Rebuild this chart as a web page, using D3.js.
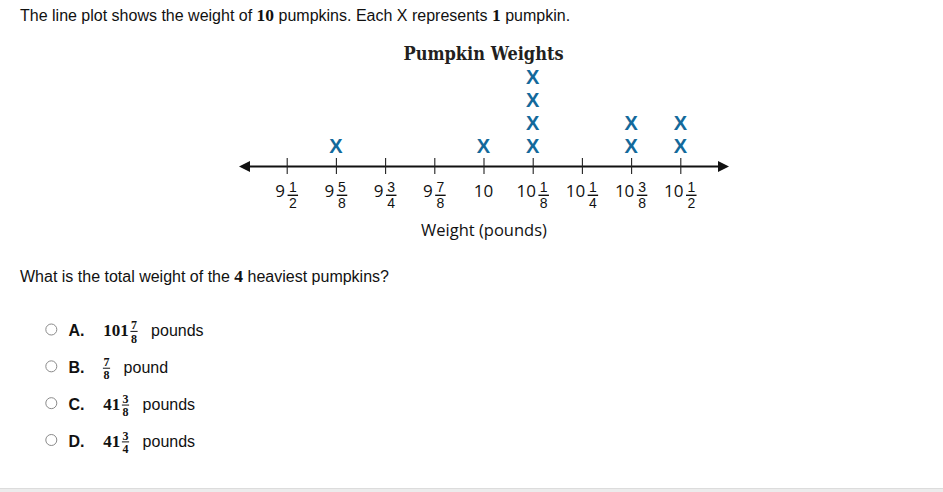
<!DOCTYPE html>
<html><head><meta charset="utf-8">
<script src="https://cdn.jsdelivr.net/npm/d3@7"></script>
<style>
html,body{margin:0;padding:0;background:#fff;}
svg{display:block;}
</style></head>
<body>
<svg id="c" width="943" height="492"></svg>
<script>
// ---- data ----
const tickValues = [9.5, 9.625, 9.75, 9.875, 10, 10.125, 10.25, 10.375, 10.5];
const tickWhole  = ["9","9","9","9","10","10","10","10","10"];
const tickNum    = ["1","5","3","7","","1","1","3","1"];
const tickDen    = ["2","8","4","8","","8","4","8","2"];
const weights    = [9.625, 10, 10.125, 10.125, 10.125, 10.125, 10.375, 10.375, 10.5, 10.5];
const chartTitle = "Pumpkin Weights";
const axisTitle  = "Weight (pounds)";
const optLetters = ["A.", "B.", "C.", "D."];
const optWhole   = ["101", "", "41", "41"];
const optNum     = ["7", "7", "3", "3"];
const optDen     = ["8", "8", "8", "4"];
const optUnit    = ["pounds", "pound", "pounds", "pounds"];

const svg = d3.select("#c");
const sansUI = "'Liberation Sans', Arial, sans-serif";
const mathF = "'Liberation Serif', 'DejaVu Serif', serif";
const tickF = "'Open Sans', 'Noto Sans', sans-serif";
const fracF = "'Liberation Sans', Arial, sans-serif";
const blue = "#13699b";
const ink = "#111";

// header text
const h = svg.append("text").attr("x", 20).attr("y", 21).attr("font-family", sansUI).attr("font-size", 16).attr("fill", ink);
h.append("tspan").text("The line plot shows the weight of ");
h.append("tspan").attr("font-family", mathF).attr("font-weight", "bold").attr("font-size", 17.5).text("10");
h.append("tspan").text(" pumpkins. Each X represents ");
h.append("tspan").attr("font-family", mathF).attr("font-weight", "bold").attr("font-size", 17.5).text("1");
h.append("tspan").text(" pumpkin.");

// scales
const x = d3.scaleLinear().domain([9.5, 10.5]).range([286.7, 680.3]);
const y = d3.scaleLinear().domain([1, 4]).range([145.5, 76.8]);
const axisY = 166.5;

// title
svg.append("text").attr("x", 483.5).attr("y", 60).attr("text-anchor", "middle")
  .attr("font-family", "'DejaVu Serif Condensed', 'DejaVu Serif', serif").attr("font-weight", "bold")
  .attr("font-size", 18).attr("fill", "#231f20").text(chartTitle);

// axis line with arrows
svg.append("line").attr("x1", 245).attr("x2", 722).attr("y1", axisY).attr("y2", axisY)
  .attr("stroke", ink).attr("stroke-width", 2.2);
svg.append("path").attr("d", `M239,${axisY} L250,${axisY-5.5} L250,${axisY+5.5} Z`).attr("fill", ink);
svg.append("path").attr("d", `M729,${axisY} L718,${axisY-5.5} L718,${axisY+5.5} Z`).attr("fill", ink);

// ticks via d3 axis
const ax = d3.axisBottom(x).tickValues(tickValues).tickSize(16).tickFormat("");
const gAx = svg.append("g").attr("transform", `translate(0,${axisY-8.5})`).call(ax);
gAx.select(".domain").remove();
gAx.selectAll(".tick line").attr("stroke", "#222").attr("stroke-width", 1.1);

// tick labels (mixed numbers)
const lab = svg.append("g").selectAll("g").data(tickValues).join("g")
  .attr("transform", (d) => `translate(${x(d)},0)`);
lab.each(function(d, i) {
  const g = d3.select(this);
  const hasFrac = tickNum[i] !== "";
  const wt = g.append("text").attr("y", 197).attr("font-family", tickF).attr("font-size", 17)
    .attr("fill", ink).text(tickWhole[i]);
  const W = wt.node().getComputedTextLength();
  const barW = 10.5, gap = 2.5;
  const total = W + (hasFrac ? gap + barW : 0);
  const left = -total / 2;
  wt.attr("x", left);
  if (hasFrac) {
    const cx = left + W + gap + barW / 2;
    g.append("text").attr("x", cx).attr("y", 192.3).attr("text-anchor", "middle")
      .attr("font-family", fracF).attr("font-size", 14).attr("fill", ink).text(tickNum[i]);
    g.append("line").attr("x1", cx - barW / 2).attr("x2", cx + barW / 2).attr("y1", 195.3).attr("y2", 195.3)
      .attr("stroke", ink).attr("stroke-width", 1.4);
    g.append("text").attr("x", cx).attr("y", 208).attr("text-anchor", "middle")
      .attr("font-family", fracF).attr("font-size", 14).attr("fill", ink).text(tickDen[i]);
  }
});

// axis title
svg.append("text").attr("x", 484).attr("y", 236).attr("text-anchor", "middle")
  .attr("font-family", tickF).attr("font-size", 16.5).attr("fill", ink).text(axisTitle);

// X marks stacked
const counts = {};
const pts = weights.map((w) => { counts[w] = (counts[w] || 0) + 1; return {w, k: counts[w]}; });
svg.append("g").selectAll("text").data(pts).join("text")
  .attr("x", (d) => x(d.w)).attr("y", (d) => y(d.k) + 7.2)
  .attr("text-anchor", "middle").attr("font-family", "'Liberation Sans', Arial, sans-serif")
  .attr("font-weight", "bold").attr("font-size", 20).attr("fill", blue).text("X");

// question
const q = svg.append("text").attr("x", 20).attr("y", 282).attr("font-family", sansUI).attr("font-size", 16).attr("fill", ink);
q.append("tspan").text("What is the total weight of the ");
q.append("tspan").attr("font-family", mathF).attr("font-weight", "bold").attr("font-size", 17.5).text("4");
q.append("tspan").text(" heaviest pumpkins?");

// options
const optY = d3.scalePoint().domain(optLetters).range([336, 446.5]);
const og = svg.append("g").selectAll("g").data(optLetters).join("g")
  .attr("transform", (d) => `translate(0,${optY(d)})`);
og.each(function(d, i) {
  const g = d3.select(this);
  g.append("circle").attr("cx", 51.3).attr("cy", -6.5).attr("r", 5.5).attr("fill", "#fff")
    .attr("stroke", "#8a8a8a").attr("stroke-width", 1);
  g.append("text").attr("x", 68.5).attr("y", 0).attr("font-family", sansUI).attr("font-weight", "bold")
    .attr("font-size", 16).attr("fill", ink).text(d);
  let cx = 103.3;
  if (optWhole[i]) {
    const t = g.append("text").attr("x", cx).attr("y", 0).attr("font-family", mathF).attr("font-weight", "bold")
      .attr("font-size", 17).attr("fill", ink).text(optWhole[i]);
    cx += t.node().getComputedTextLength() + 2;
  }
  const fc = cx + 3.2;
  g.append("text").attr("x", fc).attr("y", -7).attr("text-anchor", "middle").attr("font-family", mathF)
    .attr("font-weight", "bold").attr("font-size", 12).attr("fill", ink).text(optNum[i]);
  g.append("line").attr("x1", fc - 3.6).attr("x2", fc + 3.6).attr("y1", -4.6).attr("y2", -4.6)
    .attr("stroke", ink).attr("stroke-width", 1);
  g.append("text").attr("x", fc).attr("y", 6.5).attr("text-anchor", "middle").attr("font-family", mathF)
    .attr("font-weight", "bold").attr("font-size", 12).attr("fill", ink).text(optDen[i]);
  g.append("text").attr("x", fc + 3.6 + 13.5).attr("y", 0).attr("font-family", sansUI)
    .attr("font-size", 16).attr("fill", ink).text(optUnit[i]);
});

// bottom band
svg.append("rect").attr("x", 0).attr("y", 489).attr("width", 943).attr("height", 3).attr("fill", "#ececec");
svg.append("line").attr("x1", 0).attr("x2", 943).attr("y1", 488.5).attr("y2", 488.5).attr("stroke", "#dcdcdc");
</script>
</body></html>
